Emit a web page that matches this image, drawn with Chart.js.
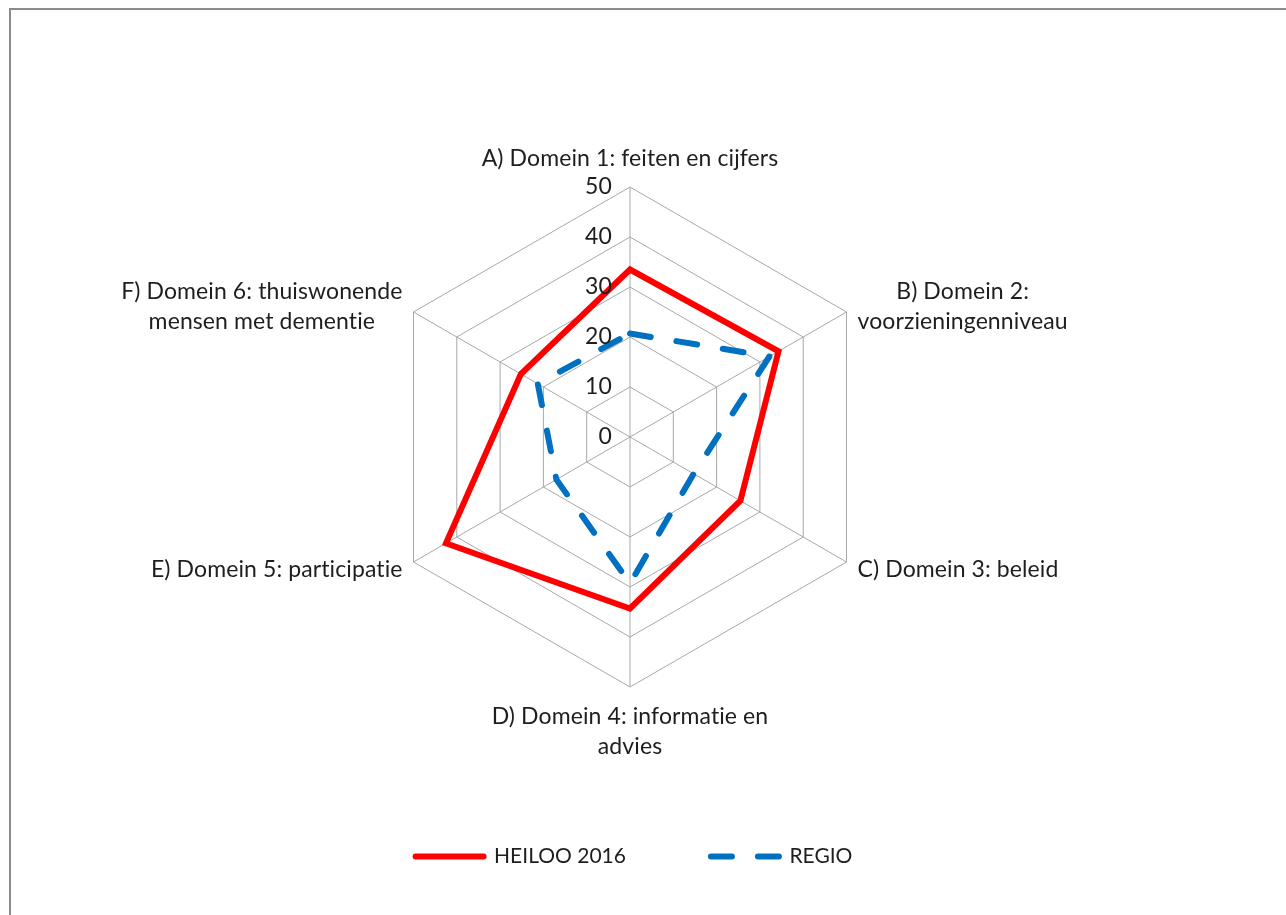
<!DOCTYPE html>
<html><head><meta charset="utf-8">
<script src="https://cdn.jsdelivr.net/npm/chart.js@4/dist/chart.umd.min.js"></script>
<style>
html,body{margin:0;padding:0;background:#fff;overflow:hidden;width:1286px;height:915px;}
#frame{position:absolute;left:9px;top:8px;width:1400px;height:1000px;border-left:2px solid #8c8c8c;border-top:2px solid #8c8c8c;box-sizing:border-box;}
#wrap{position:absolute;left:0;top:0;width:1286px;height:915px;}
canvas{font-variant-ligatures:none;}
</style></head><body>
<div id="frame"></div>
<div id="wrap"><canvas id="c" width="1286" height="915"></canvas></div>
<script>
const categories = [
  ['A) Domein 1: feiten en cijfers'],
  ['B) Domein 2:', 'voorzieningenniveau'],
  ['C) Domein 3: beleid'],
  ['D) Domein 4: informatie en', 'advies'],
  ['E) Domein 5: participatie'],
  ['F) Domein 6: thuiswonende', 'mensen met dementie']
];
const seriesNames = ['HEILOO 2016', 'REGIO'];
const heiloo2016 = [33.5, 34.3, 25.5, 34.3, 42.5, 25.2];
const regio = [20.7, 32.2, 14.7, 29.3, 17.0, 21.3];
const tickValues = [0, 10, 20, 30, 40, 50];

const FONT = 'Lato, "Open Sans", sans-serif';
const textColor = '#1e1e1e';
const gridColor = '#a8a8a8';

const labelPlugin = {
  id: 'domainLabels',
  afterDraw(chart) {
    const s = chart.scales.r;
    const ctx = chart.ctx;
    ctx.save();
    ctx.font = '23px ' + FONT;
    if ('letterSpacing' in ctx) ctx.letterSpacing = '0.1px';
    ctx.fillStyle = textColor;
    ctx.textBaseline = 'middle';
    const lh = 30;
    ctx.textAlign = 'right';
    tickValues.forEach(v => {
      const d = s.getDistanceFromCenterForValue(v);
      ctx.fillText(String(v), s.xCenter - 18, s.yCenter - d);
    });
    ctx.textAlign = 'center';
    categories.forEach((lines, i) => {
      const p = s.getPointPosition(i, s.drawingArea);
      const dx = p.x - s.xCenter, dy = p.y - s.yCenter;
      const w = Math.max(...lines.map(l => ctx.measureText(l).width));
      const n = lines.length;
      let cx, firstY;
      if (Math.abs(dx) < 1) {
        cx = p.x;
        firstY = dy < 0 ? p.y - 28 - (n - 1) * lh : p.y + 30;
      } else {
        cx = dx > 0 ? p.x + 11 + w / 2 : p.x - 11 - w / 2;
        const mid = dy < 0 ? p.y - 5 : p.y + 8;
        firstY = mid - (n - 1) * lh / 2;
      }
      lines.forEach((l, k) => ctx.fillText(l, cx, firstY + k * lh));
    });
    ctx.restore();
  }
};

new Chart(document.getElementById('c'), {
  type: 'radar',
  data: {
    labels: categories,
    datasets: [
      {label: seriesNames[0], data: heiloo2016, borderColor: '#ff0000', backgroundColor: '#ff0000', fill: false,
       borderWidth: 6, borderJoinStyle: 'miter', borderCapStyle: 'round', pointRadius: 0, pointHoverRadius: 0, clip: false},
      {label: seriesNames[1], data: regio, borderColor: '#0070c0', backgroundColor: '#0070c0', fill: false,
       borderWidth: 6, borderDash: [21, 26], borderCapStyle: 'round', borderJoinStyle: 'round', pointRadius: 0, pointHoverRadius: 0, clip: false}
    ]
  },
  options: {
    responsive: false, animation: false, devicePixelRatio: 1,
    layout: {padding: {left: 0, right: 18, top: 0, bottom: 38}},
    plugins: {
      legend: {position: 'bottom', labels: {usePointStyle: true, pointStyle: 'line', pointStyleWidth: 68, padding: 85,
        color: textColor, font: {family: FONT, size: 21},
        generateLabels(chart) {
          const items = Chart.defaults.plugins.legend.labels.generateLabels(chart);
          items.forEach(it => {
            const ds = chart.data.datasets[it.datasetIndex];
            it.lineDash = ds.borderDash || [];
            it.lineDashOffset = 0;
            it.lineWidth = ds.borderWidth;
            it.lineCap = 'round';
            it.strokeStyle = ds.borderColor;
            it.pointStyle = 'line';
          });
          return items;
        }}},
      tooltip: {enabled: false}
    },
    scales: {
      r: {
        min: 0, max: 50,
        ticks: {stepSize: 10, display: false},
        pointLabels: {display: false},
        grid: {color: gridColor, lineWidth: 1},
        angleLines: {color: gridColor, lineWidth: 1},
        afterFit(scale) { scale.xCenter = 630; scale.yCenter = 437; scale.drawingArea = 250; }
      }
    }
  },
  plugins: [labelPlugin]
});
</script>
</body></html>
